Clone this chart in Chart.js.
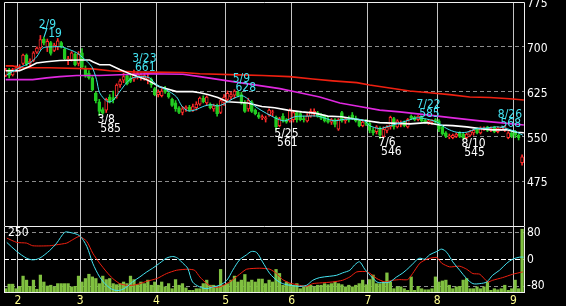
<!DOCTYPE html>
<html>
<head>
<meta charset="utf-8">
<script src="https://cdn.jsdelivr.net/npm/chart.js@4.4.1/dist/chart.umd.min.js"></script>
<style>
  html, body { margin: 0; padding: 0; background: #000; }
  #wrap { position: relative; width: 566px; height: 306px; overflow: hidden; background: #000; }
  canvas { position: absolute; left: 0; }
  #main { top: 0; }
  #sub { top: 226px; }
</style>
</head>
<body>
<div id="wrap">
  <canvas id="main" width="566" height="226"></canvas>
  <canvas id="sub" width="566" height="80"></canvas>
</div>
<script>
// daily candles, one per trading day (index 0 = last days of January)
const opens = [
  652,662,653,661,664,672,686,672,677,691, 698,713,700,707,694,700,707,696,677,678,
  688,672,690,664,656,648,622,608,595,594, 616,615,618,636,644,652,648,646,650,649,
  648,644,646,630,620,618,630,622,612,606, 598,590,596,599,594,598,604,614,606,604,
  596,602,590,606,612,616,619,624,620,606, 596,608,594,586,581,579,586,590,582,568,
  584,578,576,578,590,588,580,576,584,588, 590,586,584,578,574,578,562,590,576,580,
  586,580,576,568,574,572,560,558,564,550, 560,566,580,566,570,574,566,584,582,578,
  583,577,572,574,578,576,566,556,549,548, 550,556,554,548,552,556,562,556,562,566,
  560,566,558,562,560,548,556,558,552,506
];
const highs = [
  664,664,664,668,670,688,688,680,692,700, 719,716,713,709,706,714,709,698,684,692,
  690,692,697,668,660,650,624,612,598,614, 620,626,638,646,656,654,652,661,658,656,
  656,654,648,632,628,630,634,624,614,610, 600,600,601,602,604,608,616,618,618,606,
  604,604,614,620,626,624,628,626,624,610, 614,610,596,590,586,584,596,594,584,582,
  588,580,596,592,592,590,584,588,596,596, 592,588,586,582,580,580,580,592,582,584,
  590,584,578,576,578,576,564,568,566,566, 568,584,582,578,576,576,580,586,584,585,
  584,579,578,578,580,578,568,558,554,554, 556,558,556,556,560,562,564,566,566,567,
  566,567,566,566,568,558,558,560,554,519
];
const lows = [
  650,648,651,658,660,670,668,668,675,689, 695,703,692,686,692,695,698,678,670,676,
  668,668,664,649,646,626,606,585,587,590, 606,606,614,632,640,636,640,642,646,644,
  644,638,632,618,616,616,622,614,600,592, 588,586,592,592,592,594,602,606,602,596,
  592,584,588,602,608,612,614,616,604,590, 592,590,586,580,578,574,584,584,561,566,
  574,572,574,574,574,576,574,574,582,584, 582,578,574,572,570,566,560,574,572,574,
  578,574,566,566,568,556,552,554,546,548, 556,562,562,564,566,566,564,578,576,576,
  574,572,570,570,572,558,552,548,546,546, 548,548,545,546,550,552,554,554,560,558,
  558,556,556,560,558,546,548,548,544,502
];
const closes = [
  660,652,662,665,667,686,671,676,690,698, 712,706,709,689,703,710,700,680,680,690,
  670,688,666,651,648,628,610,592,589,612, 608,611,636,643,650,638,642,656,655,653,
  652,648,636,620,624,626,624,616,602,596, 590,596,599,594,600,604,614,608,616,598,
  601,588,610,616,622,620,626,618,606,592, 610,592,588,582,583,581,594,591,566,580,
  576,574,594,590,578,578,578,584,592,592, 584,580,576,574,578,570,578,576,580,577,
  580,576,568,574,570,560,556,566,552,562, 565,582,566,576,573,568,578,580,578,584,
  576,574,576,577,574,562,554,550,551,552, 554,550,548,554,558,560,556,564,564,560,
  564,558,564,565,566,556,550,552,548,516
];
const volumes = [
  16,33,33,16,25,63,48,25,48,14, 67,41,26,29,23,35,35,35,35,23,
  25,63,41,54,70,60,54,35,63,50, 54,35,31,35,41,35,63,50,31,41,
  35,48,29,41,29,41,23,35,16,50, 29,35,19,10,10,16,16,35,48,29,
  29,23,88,29,35,48,63,41,48,69, 41,48,41,52,52,35,48,41,88,73,
  29,41,35,29,35,16,23,23,29,23, 29,29,35,31,35,41,35,31,23,29,
  23,29,35,48,31,50,67,35,35,41, 75,41,16,23,23,16,10,60,10,25,
  16,12,12,16,60,41,45,48,29,16, 23,25,48,54,16,16,23,16,23,41,
  10,16,12,16,29,10,16,48,16,238
];

// month boundaries (first trading day index) and their labels
const monthStarts = [4, 22, 44, 64, 83, 105, 125, 147];
const monthLabels = ['2', '3', '4', '5', '6', '7', '8', '9'];
const priceTicks = [775, 700, 625, 550, 475];
const oscTicks = [80, 50, 0, -50, -80];

// moving averages at sample days
const maShortDays = [0.3,4.0,6.9,8.9,10.7,13.5,16.1,17.6,20.5,22.2,24.8,26.2,27.1,29.4,30.9,32.9,34.9,36.6,39.5,41.5,43.6,46.4,49.3,50.8,52.5,54.5,57.4,59.4,61.2,63.2,65.5,68.1,69.8,71.8,73.9,76.7,78.5,80.5,83.4,87.1,90.0,92.9,94.9,96.9,98.7,101.6,103.6,105.0,107.9,109.9,112.8,115.7,118.6,121.5,124.4,127.3,130.1,133.0,135.9,138.8,141.7,144.6,147.5,149.2];
const maShortVals = [653,665,673,683,698,700,700,697,690,682,667,645,623,608,610,625,640,648,650,648,636,628,616,601,593,594,601,603,601,605,613,618,613,601,593,584,579,576,583,584,584,579,576,578,579,579,576,568,563,566,571,576,581,579,574,563,557,557,563,564,566,563,557,552];
const maMidDays = [0,4.0,6.9,8.9,11.8,15.6,21.3,24.2,25.1,27.1,30.0,32.9,36.6,40.7,44.4,49.3,54.0,56.0,58.3,61.2,64.0,69.8,73.9,77.6,81.4,85.4,89.2,92.9,96.9,100.7,102.1,107.9,116.6,121.5,125.2,129.0,133.0,136.8,140.5,144.6,147.5,149.5];
const maMidVals = [660,660,667,673,675,677,678,678,675,670,670,662,653,645,633,625,625,623,620,615,608,606,600,598,594,591,589,584,583,579,578,573,571,573,569,568,566,563,561,561,557,556];
const maLongDays = [0,7.8,11.8,15.6,20.5,27.1,40.7,51.1,56.0,61.7,67.5,73.3,79.1,84.8,90.6,96.4,102.1,107.9,113.7,121.5,129.0,136.8,142.5,149.5];
const maLongVals = [645,645,648,650,652,652,655,654,650,645,640,635,630,623,616,606,600,594,591,586,581,576,573,569];
const maYearDays = [0,2.0,4.0,12.7,25.1,30.0,36.6,51.1,56.0,67.5,74.1,81.9,88.6,94.4,101.3,105.0,110.8,116.6,122.3,128.1,133.9,139.7,145.4,149.5];
const maYearVals = [668,668,665,665,663,660,658,657,655,653,652,650,646,643,640,636,631,626,623,620,616,615,613,611];

// oscillator panel
const oscFastDays = [0.3,3.2,6.0,7.8,9.8,12.7,14.7,17.0,18.4,21.3,23.4,25.1,27.1,29.1,30.9,32.9,34.9,36.6,38.7,40.7,42.4,44.4,46.4,48.2,49.6,51.1,52.5,53.9,56.0,58.0,59.7,61.7,63.8,65.5,67.5,69.5,70.9,72.4,74.1,76.2,78.2,79.9,81.9,84.8,86.8,88.6,90.6,93.5,95.5,97.2,99.3,100.7,102.1,103.6,104.7,107.1,108.8,110.8,112.8,114.6,116.6,118.6,119.5,120.9,122.3,124.4,125.8,127.3,129.0,131.0,133.0,134.8,136.8,138.8,140.5,142.5,144.6,146.3,148.3,149.4];
const oscFastVals = [51,24,4,-1,4,27,49,81,81,71,39,-11,-52,-77,-90,-92,-82,-67,-52,-37,-26,-11,4,9,4,-11,-26,-67,-82,-87,-82,-77,-62,-32,-1,14,24,21,-7,-42,-62,-72,-77,-80,-77,-62,-54,-50,-47,-40,-32,-16,-7,-29,-42,-67,-69,-67,-52,-40,-22,-1,4,1,14,24,31,21,-7,-32,-57,-72,-72,-67,-47,-32,-11,1,7,7];
const oscSlowDays = [0.3,3.2,6.0,7.8,12.7,14.7,17.6,19.3,21.3,23.4,25.1,27.1,29.1,30.9,32.9,34.9,36.6,38.7,40.7,43.6,46.4,49.3,52.5,54.5,56.0,58.0,59.7,61.7,64.6,67.5,69.5,73.3,76.2,78.2,79.9,81.9,84.8,86.8,88.6,90.6,94.4,97.2,99.3,101.3,104.4,107.1,109.4,111.7,113.7,116.0,117.4,119.5,121.5,124.4,125.8,128.1,131.0,133.0,134.8,136.8,139.1,140.5,143.4,146.3,149.2];
const oscSlowVals = [64,51,49,41,41,44,49,59,69,54,19,-11,-37,-57,-72,-77,-77,-72,-65,-57,-42,-32,-29,-32,-52,-72,-82,-82,-67,-44,-29,-26,-29,-42,-60,-70,-77,-80,-72,-70,-67,-62,-52,-37,-37,-57,-67,-62,-60,-60,-42,-11,1,6,-11,-22,-20,-29,-42,-44,-67,-62,-54,-44,-37];

// highs / lows marked on the chart
const peakDays = [10, 37, 66, 119, 144];
const peakDates = ['2/9', '3/23', '5/9', '7/22', '8/26'];
const troughDays = [27, 78, 108, 132];
const troughDates = ['3/8', '5/25', '7/6', '8/10'];

const FAMILY = "'Liberation Sans Narrow', 'DejaVu Sans Condensed', 'Liberation Sans', sans-serif";
const FONT = { family: FAMILY, size: 12 };
const UP = '#ff2a2a', DOWN = '#22cc22', CYAN = '#44e2f0';

const isUp = closes.map((c, i) => c >= opens[i]);
const pts = (days, vals) => days.map((d, i) => ({ x: d, y: vals[i] }));

// bar charts default to offset axes, which would shift the day grid
const xAxis = (extra) => Object.assign({
  type: 'linear', min: -0.5, max: 149.55, offset: false, bounds: 'ticks',
  afterBuildTicks: s => { s.ticks = monthStarts.map(d => ({ value: d - 0.5 })); },
  grid: { color: '#c4c4c4', lineWidth: 1, drawTicks: false, offset: false },
  border: { display: false }
}, extra);

const frame = {
  id: 'frame',
  afterDraw(chart, args, opts) {
    const { ctx, chartArea: a } = chart;
    ctx.save();
    ctx.strokeStyle = '#f0f0f0';
    ctx.lineWidth = 1;
    ctx.beginPath();
    ctx.moveTo(a.left + 0.5, a.bottom); ctx.lineTo(a.left + 0.5, a.top + 0.5);
    ctx.lineTo(a.right + 0.5, a.top + 0.5); ctx.lineTo(a.right + 0.5, a.bottom);
    if (opts.bottom) { ctx.moveTo(a.left, a.bottom - 0.5); ctx.lineTo(a.right + 1, a.bottom - 0.5); }
    ctx.stroke();
    if (opts.volLabel) {
      ctx.fillStyle = '#fff';
      ctx.font = `12px ${FAMILY}`;
      ctx.textBaseline = 'middle';
      ctx.fillText(opts.volLabel, a.left + 4, a.top + 6.5);
    }
    ctx.restore();
  }
};

const marks = {
  id: 'marks',
  afterDatasetsDraw(chart) {
    const { ctx, chartArea: a, scales: { x, y } } = chart;
    ctx.save();
    ctx.font = `12px ${FAMILY}`;
    ctx.textBaseline = 'middle';
    const put = (day, date, value, py, dy1, dy2, color) => {
      let left = x.getPixelForValue(day) - 1.7;
      left = Math.min(left, a.right - ctx.measureText(date).width - 2);
      ctx.fillStyle = color;
      ctx.fillText(date, left, py + dy1);
      ctx.fillText(String(value), left + 2.7, py + dy2);
    };
    peakDays.forEach((d, k) => put(d, peakDates[k], highs[d], y.getPixelForValue(highs[d]), -11, -2, CYAN));
    troughDays.forEach((d, k) => put(d, troughDates[k], lows[d], y.getPixelForValue(lows[d]), 4.5, 13.5, '#ffffff'));
    ctx.restore();
  }
};

const line = (data, color, width, tension, order) => ({
  type: 'line', data, borderColor: color, borderWidth: width, pointRadius: 0,
  tension, fill: false, order
});

new Chart(document.getElementById('main'), {
  type: 'bar',
  data: {
    datasets: [
      line(pts(maShortDays, maShortVals), CYAN, 1, 0.3, 0),
      line(pts(maMidDays, maMidVals), '#ffffff', 1.6, 0, 0),
      line(pts(maLongDays, maLongVals), '#e028e0', 1.6, 0, 0),
      line(pts(maYearDays, maYearVals), '#f02010', 1.6, 0, 0),
      {
        type: 'bar', order: 1,
        data: opens.map((o, i) => ({ x: i, y: [o, closes[i]] })),
        backgroundColor: isUp.map(u => u ? '#000' : DOWN),
        borderColor: isUp.map(u => u ? UP : DOWN),
        borderWidth: 1, borderSkipped: false, barThickness: 3, grouped: false
      },
      {
        type: 'bar', order: 2,
        data: highs.map((h, i) => ({ x: i, y: [lows[i], h] })),
        backgroundColor: isUp.map(u => u ? UP : DOWN),
        borderWidth: 0, barThickness: 1, grouped: false
      }
    ]
  },
  options: {
    responsive: false, animation: false, devicePixelRatio: 1,
    layout: { padding: { left: 4, top: 2, right: 0, bottom: 0 } },
    plugins: { legend: { display: false }, tooltip: { enabled: false }, frame: {} },
    scales: {
      x: xAxis({
        ticks: { display: false },
        afterFit: s => { s.height = 0; s.paddingLeft = 0; s.paddingRight = 0; }
      }),
      y: {
        position: 'right', min: 400, max: 775,
        afterBuildTicks: s => { s.ticks = priceTicks.map(v => ({ value: v })); },
        afterFit: s => { s.width = 42; s.paddingTop = 0; s.paddingBottom = 0; },
        ticks: { color: '#ffffff', font: FONT, padding: 3, labelOffset: 2 },
        grid: { color: c => (c.tick && c.tick.value === 775) ? 'rgba(0,0,0,0)' : '#8c8c8c', drawTicks: false },
        border: { display: false, dash: [4, 3] }
      }
    }
  },
  plugins: [frame, marks]
});

new Chart(document.getElementById('sub'), {
  type: 'bar',
  data: {
    datasets: [
      Object.assign(line(pts(oscFastDays, oscFastVals), CYAN, 1, 0.3, 0), { yAxisID: 'y' }),
      Object.assign(line(pts(oscSlowDays, oscSlowVals), '#f02010', 1, 0.2, 0), { yAxisID: 'y' }),
      {
        type: 'bar', order: 1, yAxisID: 'vol',
        data: volumes.map((v, i) => ({ x: i, y: v })),
        backgroundColor: '#80c040', borderWidth: 0, barThickness: 2.6, grouped: false
      }
    ]
  },
  options: {
    responsive: false, animation: false, devicePixelRatio: 1,
    layout: { padding: { left: 4, top: 0, right: 0, bottom: 0 } },
    plugins: { legend: { display: false }, tooltip: { enabled: false }, frame: { bottom: true, volLabel: '250' } },
    scales: {
      x: xAxis({
        ticks: { color: '#ffff90', font: FONT, padding: 1, autoSkip: false, maxRotation: 0,
                 callback: (v, i) => monthLabels[i] },
        afterFit: s => { s.height = 13; s.paddingLeft = 0; s.paddingRight = 0; }
      }),
      y: {
        position: 'right', min: -100, max: 100,
        afterBuildTicks: s => { s.ticks = oscTicks.map(v => ({ value: v })); },
        afterFit: s => { s.width = 42; s.paddingTop = 0; s.paddingBottom = 0; },
        ticks: { color: '#ffffff', font: FONT, padding: 3 },
        grid: { color: c => (c.tick && c.tick.value === 0) ? '#ffffff' : '#8c8c8c', drawTicks: false },
        border: { display: false, dash: c => (c.tick && c.tick.value === 0) ? [5, 2] : [4, 3] }
      },
      vol: { position: 'left', display: false, min: 0, max: 250 }
    }
  },
  plugins: [frame]
});
</script>
</body>
</html>
